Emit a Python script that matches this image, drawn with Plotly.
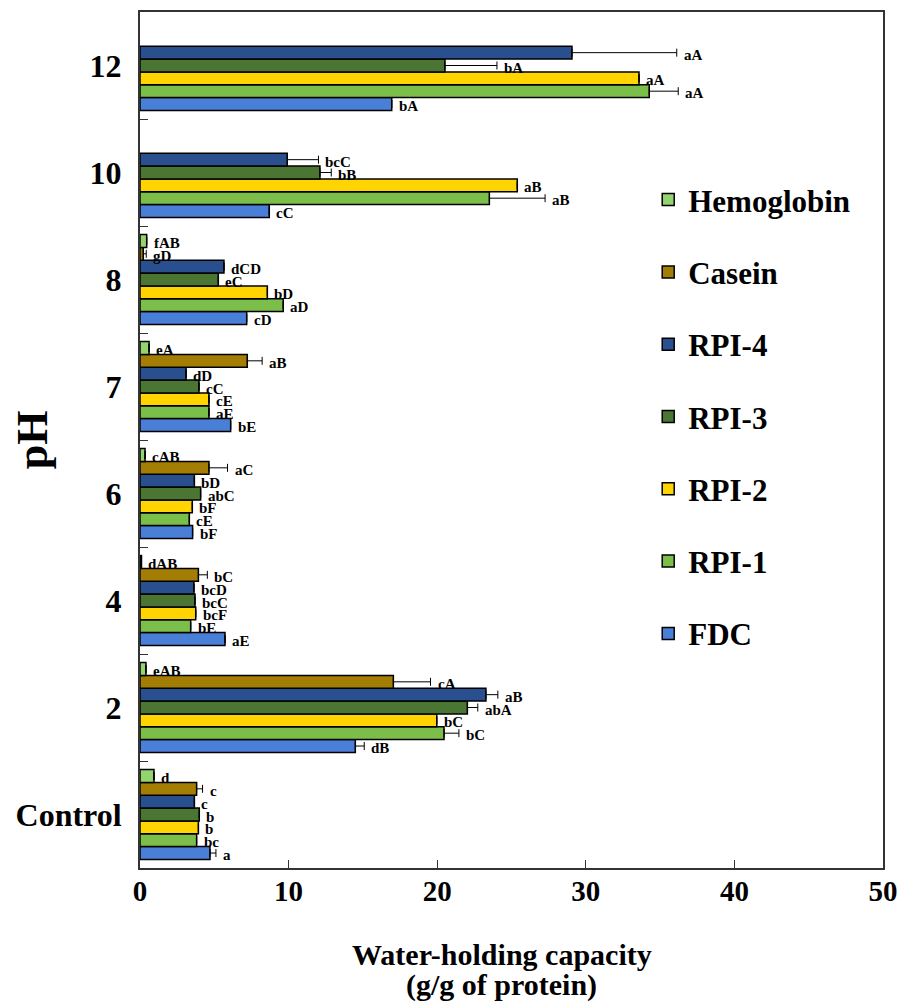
import plotly.graph_objects as go

categories = ["Control", "2", "4", "6", "7", "8", "10", "12"]

fdc = [4.71, 14.49, 5.72, 3.54, 6.10, 7.18, 8.70, 16.94]
fdc_err = [0.4, 0.6, 0, 0, 0, 0, 0, 0]
fdc_lbl = ["a", "dB", "aE", "bF", "bE", "cD", "cC", "bA"]

rpi1 = [3.81, 20.46, 3.41, 3.32, 4.64, 9.64, 23.51, 34.27]
rpi1_err = [0, 1.0, 0, 0, 0, 0, 3.75, 1.95]
rpi1_lbl = ["bc", "bC", "bE", "cE", "aE", "aD", "aB", "aA"]

rpi2 = [3.93, 19.97, 3.75, 3.52, 4.64, 8.57, 25.39, 33.58]
rpi2_err = [0, 0, 0, 0, 0, 0, 0, 0]
rpi2_lbl = ["b", "bC", "bcF", "bF", "cE", "bD", "aB", "aA"]

rpi3 = [3.99, 22.03, 3.70, 4.08, 3.97, 5.27, 12.11, 20.52]
rpi3_err = [0, 0.7, 0, 0, 0, 0, 0.76, 3.5]
rpi3_lbl = ["b", "abA", "bcC", "abC", "cC", "eC", "bB", "bA"]

rpi4 = [3.66, 23.28, 3.63, 3.66, 3.10, 5.65, 9.91, 29.07]
rpi4_err = [0, 0.8, 0, 0, 0, 0, 2.1, 7.05]
rpi4_lbl = ["c", "aB", "bcD", "bD", "dD", "dCD", "bcC", "aA"]

casein = [3.81, 17.05, 3.93, 4.64, 7.22, 0.22, None, None]
casein_err = [0.4, 2.5, 0.6, 1.25, 1.0, 0.2, None, None]
casein_lbl = ["c", "cA", "bC", "aC", "aB", "gD", None, None]

hemo = [0.94, 0.40, 0.10, 0.34, 0.61, 0.45, None, None]
hemo_err = [0, 0, 0, 0, 0, 0, None, None]
hemo_lbl = ["d", "eAB", "dAB", "cAB", "eA", "fAB", None, None]

series = [
    ("FDC", fdc, fdc_err, fdc_lbl, "#4A7FD8"),
    ("RPI-1", rpi1, rpi1_err, rpi1_lbl, "#7BBF4A"),
    ("RPI-2", rpi2, rpi2_err, rpi2_lbl, "#FFD400"),
    ("RPI-3", rpi3, rpi3_err, rpi3_lbl, "#4A7532"),
    ("RPI-4", rpi4, rpi4_err, rpi4_lbl, "#2A4F8E"),
    ("Casein", casein, casein_err, casein_lbl, "#A47D05"),
    ("Hemoglobin", hemo, hemo_err, hemo_lbl, "#93D46F"),
]

FONT = "Liberation Serif"
BARGAP = 0.16
n_tr = len(series)
slot = (1 - BARGAP) / n_tr

fig = go.Figure()
annotations = []
for ti, (name, vals, errs, lbls, color) in enumerate(series):
    fig.add_trace(go.Bar(
        y=categories, x=vals, orientation="h", name=name, legendgroup=name,
        legendrank=n_tr - ti,
        marker=dict(color=color, line=dict(color="black", width=1.5)),
        error_x=dict(type="data", array=errs, arrayminus=[0] * len(vals),
                     symmetric=False, color="black", thickness=1, width=4),
    ))
    for gi, (v, e, lb) in enumerate(zip(vals, errs, lbls)):
        if v is None or lb is None:
            continue
        annotations.append(dict(
            x=v + (e or 0), y=gi - (1 - BARGAP) / 2 + slot * (ti + 0.5),
            xref="x", yref="y", text=lb, showarrow=False,
            xanchor="left", yanchor="middle", xshift=5, yshift=-2,
            font=dict(family=FONT, size=15, color="black", weight="bold"),
        ))

annotations.append(dict(
    x=-0.141, y=0.5, xref="paper", yref="paper", text="pH", textangle=-90,
    showarrow=False, xanchor="center", yanchor="middle", xshift=-3,
    font=dict(family=FONT, size=44, color="black", weight="bold"),
))
for txt, yp in [("Water-holding capacity", -0.1014), ("(g/g of protein)", -0.1364)]:
    annotations.append(dict(
        x=0.487, y=yp, xref="paper", yref="paper", text=txt,
        showarrow=False, xanchor="center", yanchor="middle",
        font=dict(family=FONT, size=30, color="black", weight="bold"),
    ))

fig.update_layout(
    width=903, height=997,
    margin=dict(l=132, r=28, t=2, b=137),
    plot_bgcolor="white", paper_bgcolor="white",
    barmode="group", bargap=BARGAP, bargroupgap=0,
    showlegend=True,
    legend=dict(
        x=0.684, y=0.812, xanchor="left", yanchor="top",
        traceorder="grouped", tracegroupgap=29,
        font=dict(family=FONT, size=31, color="black", weight="bold"),
        bgcolor="rgba(0,0,0,0)",
    ),
    annotations=annotations,
    xaxis=dict(
        range=[0, 50], tickvals=[0, 10, 20, 30, 40, 50],
        ticks="inside", ticklen=8, tickcolor="#333", tickwidth=1.2,
        showline=True, linecolor="#333", linewidth=2, mirror=True,
        showgrid=False, zeroline=False,
        tickfont=dict(family=FONT, size=29, color="black", weight="bold"),
        ticklabelstandoff=-4,
    ),
    yaxis=dict(
        type="category", categoryorder="array", categoryarray=categories,
        range=[-0.5, len(categories) - 0.5],
        tickson="boundaries", ticks="inside", ticklen=8, tickcolor="#333",
        tickwidth=1.2,
        showline=True, linecolor="#333", linewidth=2, mirror=True,
        showgrid=False, zeroline=False,
        tickfont=dict(family=FONT, size=32, color="black", weight="bold"),
        ticklabelstandoff=10,
    ),
)

fig.write_html("out.html")
